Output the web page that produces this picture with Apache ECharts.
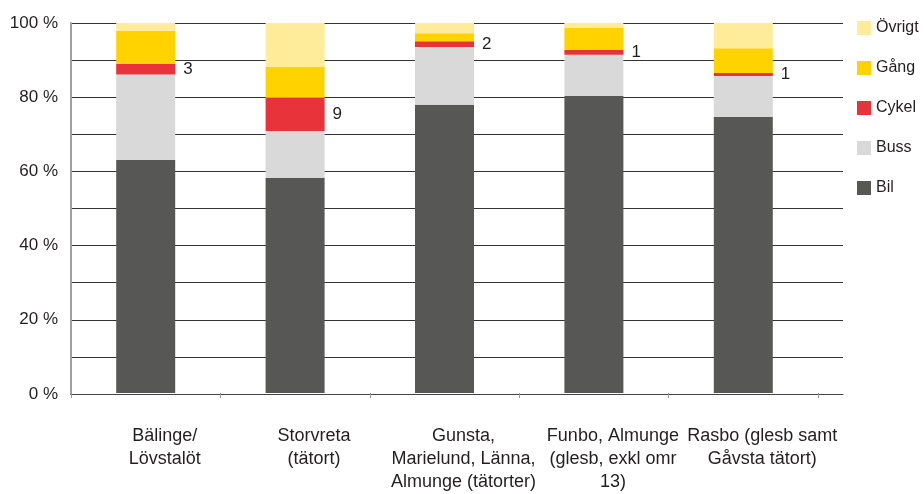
<!DOCTYPE html>
<html>
<head>
<meta charset="utf-8">
<script src="https://cdn.jsdelivr.net/npm/echarts@6/dist/echarts.min.js"></script>
<style>
html,body{margin:0;padding:0;background:#fff;}
#chart{width:924px;height:494px;}
</style>
</head>
<body>
<div id="chart"></div>
<script>
const categories = [
  'Bälinge/\nLövstalöt',
  'Storvreta\n(tätort)',
  'Gunsta,\nMarielund, Länna,\nAlmunge (tätorter)',
  'Funbo, Almunge\n(glesb, exkl omr\n13)',
  'Rasbo (glesb samt\nGåvsta tätort)'
];
const seriesNames = ['Bil', 'Buss', 'Cykel', 'Gång', 'Övrigt'];
const bil    = [63.0, 58.2, 77.9, 80.3, 74.6];
const buss   = [23.1, 12.6, 15.6, 11.1, 11.1];
const cykel  = [2.9, 9.0, 1.6, 1.4, 0.8];
const gang   = [8.9, 8.4, 2.1, 5.9, 6.7];
const ovrigt = [2.1, 11.8, 2.8, 1.3, 6.8];
const yTickValues = [0, 20, 40, 60, 80, 100];

const colors = {
  'Bil': '#575756',
  'Buss': '#D9D9D9',
  'Cykel': '#E8333A',
  'Gång': '#FFD200',
  'Övrigt': '#FEEC9A'
};
const values = { 'Bil': bil, 'Buss': buss, 'Cykel': cykel, 'Gång': gang, 'Övrigt': ovrigt };
const FONT = 'Liberation Sans';
const TXT = '#231F20';

const chart = echarts.init(document.getElementById('chart'));
const series = seriesNames.map(name => ({
  name: name,
  type: 'bar',
  stack: 'total',
  xAxisIndex: 1,
  yAxisIndex: 1,
  barWidth: 59,
  itemStyle: { color: colors[name] },
  label: name === 'Cykel' ? {
    show: true,
    position: 'right',
    distance: 8,
    fontFamily: FONT,
    fontSize: 17,
    color: TXT,
    formatter: p => String(Math.round(p.value))
  } : { show: false },
  data: values[name]
}));

chart.setOption({
  animation: false,
  textStyle: { fontFamily: FONT },
  grid: [
    { left: 71, right: 81, top: 23, bottom: 100 },
    { left: 71, right: 106, top: 23, bottom: 100 }
  ],
  legend: {
    orient: 'vertical',
    left: 852,
    top: 15,
    padding: 5,
    itemWidth: 14,
    itemHeight: 14,
    itemGap: 24,
    icon: 'rect',
    textStyle: { fontFamily: FONT, fontSize: 16, color: TXT },
    data: ['Övrigt', 'Gång', 'Cykel', 'Buss', 'Bil']
  },
  xAxis: [
    {
      type: 'value', gridIndex: 0, min: 0, max: 1,
      axisLine: { show: true, lineStyle: { color: '#444', width: 1 } },
      axisTick: { show: false }, axisLabel: { show: false }, splitLine: { show: false }
    },
    {
      type: 'category', gridIndex: 1, data: categories,
      axisLine: { show: false },
      axisTick: { show: true, length: 5, lineStyle: { color: '#999', width: 1 } },
      axisLabel: {
        interval: 0,
        margin: 32,
        padding: [0, 0, 0, 38],
        fontFamily: FONT, fontSize: 18, lineHeight: 23, color: TXT
      }
    }
  ],
  yAxis: [
    {
      type: 'value', gridIndex: 0, min: 0, max: 100, interval: 10,
      axisLine: { show: true, lineStyle: { color: '#A0A0A0', width: 2 } },
      axisTick: { show: false },
      axisLabel: {
        margin: 13, fontFamily: FONT, fontSize: 17, color: TXT,
        formatter: v => yTickValues.indexOf(v) >= 0 ? v + ' %' : ''
      },
      splitLine: { show: true, lineStyle: { color: '#333', width: 1 } }
    },
    {
      type: 'value', gridIndex: 1, min: 0, max: 100, interval: 10, show: false,
      splitLine: { show: false }
    }
  ],
  series: series
});
</script>
</body>
</html>
